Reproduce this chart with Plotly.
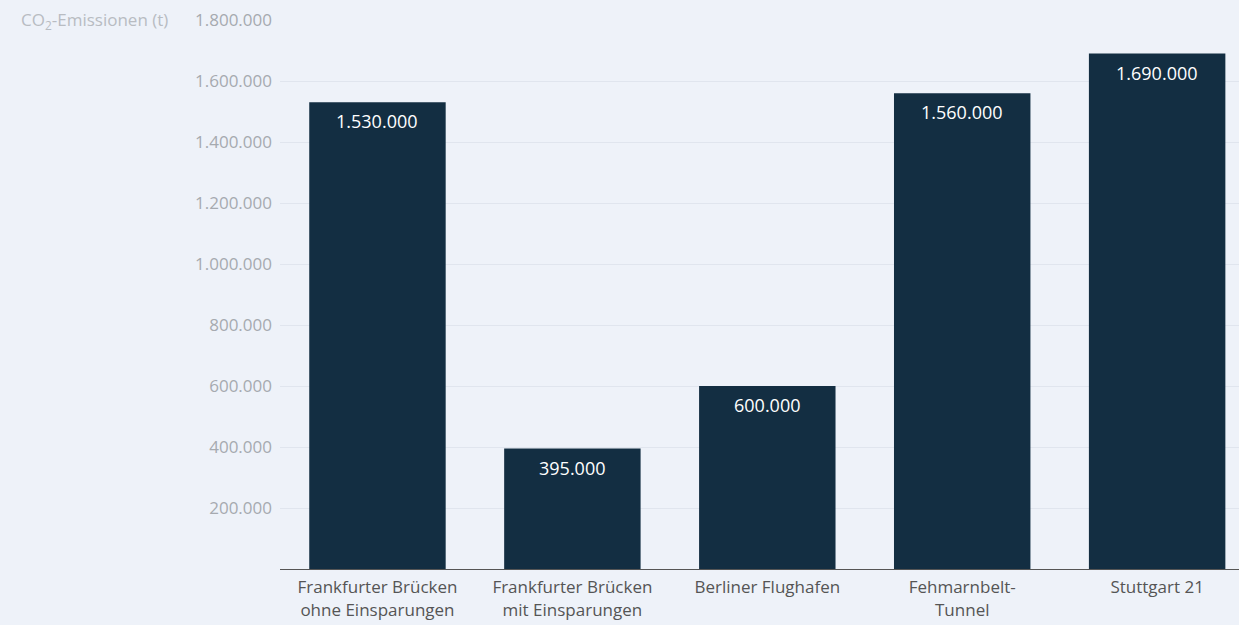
import plotly.graph_objects as go

# CO2 emissions of large German infrastructure projects (tonnes)
projects = [
    "Frankfurter Brücken<br>ohne Einsparungen",
    "Frankfurter Brücken<br>mit Einsparungen",
    "Berliner Flughafen",
    "Fehmarnbelt-<br>Tunnel",
    "Stuttgart 21",
]
emissions_t = [1530000, 395000, 600000, 1560000, 1690000]
y_ticks = [200000, 400000, 600000, 800000, 1000000, 1200000, 1400000, 1600000, 1800000]

BG = "#eef2f9"
BAR = "#132e42"
FONT = "Open Sans"


def de_number(v):
    # German thousands separator
    return f"{v:,.0f}".replace(",", ".")


fig = go.Figure(
    go.Bar(
        x=projects,
        y=emissions_t,
        marker=dict(color=BAR, line=dict(width=0)),
        hoverinfo="skip",
    )
)

# value labels just inside the top of each bar
value_labels = [
    dict(
        x=p,
        y=v,
        xref="x",
        yref="y",
        text=de_number(v),
        showarrow=False,
        yanchor="top",
        yshift=-5,
        font=dict(family=FONT, size=18, color="#ffffff"),
    )
    for p, v in zip(projects, emissions_t)
]

fig.update_layout(
    width=1239,
    height=625,
    paper_bgcolor=BG,
    plot_bgcolor=BG,
    separators=",.",
    bargap=0.3,
    showlegend=False,
    margin=dict(l=280, r=0, t=20, b=56),
    font=dict(family=FONT),
    xaxis=dict(
        range=[-0.5, 4.42],
        showline=True,
        linecolor="#555555",
        linewidth=1,
        ticks="",
        tickfont=dict(family=FONT, size=17, color="#555555"),
        showgrid=False,
        ticklabelstandoff=3,
    ),
    yaxis=dict(
        range=[0, 1800000],
        tickvals=y_ticks,
        tickformat=",.0f",
        tickfont=dict(family=FONT, size=17, color="#a6aab0"),
        gridcolor="#e0e5ee",
        gridwidth=1,
        zeroline=False,
        ticks="",
        ticklabelstandoff=7,
    ),
    annotations=value_labels
    + [
        dict(
            text="CO<sub>2</sub>-Emissionen (t)",
            xref="paper",
            yref="y",
            x=0,
            y=1800000,
            xanchor="right",
            yanchor="middle",
            xshift=-110,
            showarrow=False,
            font=dict(family=FONT, size=17, color="#b8bcc2"),
        )
    ],
)

fig.write_html("out.html")
